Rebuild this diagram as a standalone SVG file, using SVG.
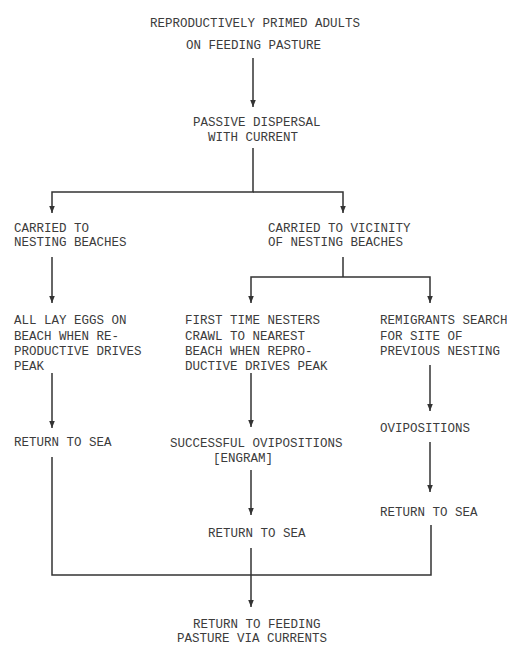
<svg xmlns="http://www.w3.org/2000/svg" width="507" height="645" viewBox="0 0 507 645">
<defs>
<marker id="ah" markerUnits="userSpaceOnUse" markerWidth="8" markerHeight="8" viewBox="0 0 8 8" refX="7" refY="4" orient="auto">
<path d="M0,1.2 L7,4 L0,6.8 Z" fill="#333"/>
</marker>
<style>
text{font-family:"Liberation Mono","DejaVu Sans Mono",monospace;font-size:12.5px;fill:#3c3c3c;}
.c{fill:none;stroke:#333;stroke-width:1.5;}
.a{marker-end:url(#ah);}
</style>
</defs>
<rect width="507" height="645" fill="#fff"/>
<g id="connectors">
<path class="c a" d="M253 58 V107"/>
<path class="c a" d="M253 148 V192 H52 V213"/>
<path class="c a" d="M253 192 H343 V213"/>
<path class="c a" d="M52 257 V303"/>
<path class="c" d="M343 257 V277"/>
<path class="c a" d="M343 277 H251 V303"/>
<path class="c a" d="M343 277 H430 V303"/>
<path class="c a" d="M52 373 V428"/>
<path class="c a" d="M251 373 V427"/>
<path class="c a" d="M430 365 V411"/>
<path class="c a" d="M251 470 V515"/>
<path class="c a" d="M430 442 V492"/>
<path class="c" d="M52 457 V575 H431 V525"/>
<path class="c a" d="M251 548 V607"/>
</g>
<g id="n1"><text x="150" y="27">REPRODUCTIVELY PRIMED ADULTS</text><text x="186" y="49">ON FEEDING PASTURE</text></g>
<g id="n2"><text x="193" y="126">PASSIVE DISPERSAL</text><text x="208" y="141">WITH CURRENT</text></g>
<g id="n3"><text x="14" y="232">CARRIED TO</text><text x="14" y="246">NESTING BEACHES</text></g>
<g id="n4"><text x="268" y="232">CARRIED TO VICINITY</text><text x="268" y="246">OF NESTING BEACHES</text></g>
<g id="n5"><text x="14" y="324">ALL LAY EGGS ON</text><text x="14" y="340">BEACH WHEN RE-</text><text x="14" y="355">PRODUCTIVE DRIVES</text><text x="14" y="370">PEAK</text></g>
<g id="n6"><text x="185" y="324">FIRST TIME NESTERS</text><text x="185" y="340">CRAWL TO NEAREST</text><text x="185" y="355">BEACH WHEN REPRO-</text><text x="185" y="370">DUCTIVE DRIVES PEAK</text></g>
<g id="n7"><text x="380" y="324">REMIGRANTS SEARCH</text><text x="380" y="340">FOR SITE OF</text><text x="380" y="355">PREVIOUS NESTING</text></g>
<g id="n8"><text x="14" y="446">RETURN TO SEA</text></g>
<g id="n9"><text x="170" y="447">SUCCESSFUL OVIPOSITIONS</text><text x="213" y="462">[ENGRAM]</text></g>
<g id="n10"><text x="380" y="432">OVIPOSITIONS</text></g>
<g id="n11"><text x="380" y="516">RETURN TO SEA</text></g>
<g id="n12"><text x="208" y="537">RETURN TO SEA</text></g>
<g id="n13"><text x="193" y="628">RETURN TO FEEDING</text><text x="177" y="642">PASTURE VIA CURRENTS</text></g>
</svg>
